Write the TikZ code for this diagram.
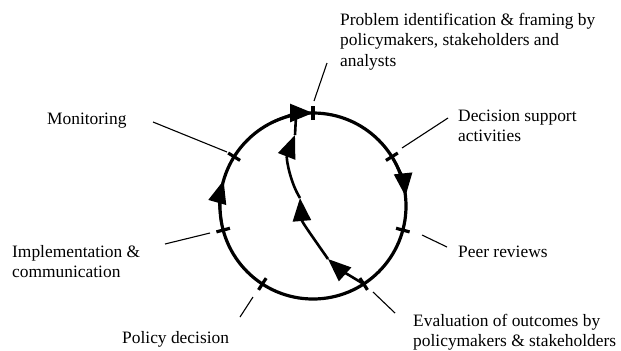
\documentclass[tikz,border=0pt]{standalone}
\usepackage{fontspec}
\setmainfont{Liberation Serif}
\usetikzlibrary{arrows.meta,calc}
\begin{document}
\begin{tikzpicture}[x=1bp,y=-1bp,
  ring/.style={line width=3.2bp},
  tickmark/.style={line width=3.2bp},
  leader/.style={line width=1.1bp},
  flowline/.style={line width=2.6bp},
  flow/.style={line width=2.6bp,-{Triangle[length=23bp,width=18bp]}},
  lbl/.style={anchor=north west,inner sep=0pt,align=left,font=\fontsize{17.4bp}{20.5bp}\selectfont}
]
\useasboundingbox (0,0) rectangle (621,350);
\coordinate (c) at (313,206);
\draw[ring] (c) circle[radius=93];
% ticks
\foreach \a in {-90,-32,15,57,123,165,212}
  \draw[tickmark] ($(c)+(\a:86)$) -- ($(c)+(\a:100)$);
% arrows on the circle (clockwise)
\draw[flow] ($(c)+(-116:93)$) arc[start angle=-116,end angle=-90,radius=93];
\draw[flow] ($(c)+(-32:93)$) arc[start angle=-32,end angle=-6,radius=93];
\draw[flow] ($(c)+(-190:93)$) arc[start angle=-190,end angle=-164,radius=93];
% inner path
\coordinate (p0) at ($(c)+(57:93)$);
\coordinate (p1) at (328,259);
\coordinate (p2) at (300,198);
\coordinate (p3) at (295,135);
\coordinate (p4) at (296,116);
\draw[flow] (p0) .. controls (352,277) and (338,268) .. (p1);
\draw[flow] (p1) .. controls (312,236) and (302,222) .. (p2);
\draw[flow] (p2) .. controls (290,182) and (286,158) .. (p3);
\draw[flowline] (p3) -- (p4);
% labels
\node[lbl] (t1) at (340,10.65) {\strut Problem identification \& framing by\\policymakers, stakeholders and\\analysts};
\node[lbl] (t2) at (458,106.65) {\strut Decision support\\activities};
\node[lbl] (t3) at (458,242.65) {\strut Peer reviews};
\node[lbl] (t4) at (413,311.65) {\strut Evaluation of outcomes by\\policymakers \& stakeholders};
\node[lbl] (t5) at (122,328.65) {\strut Policy decision};
\node[lbl] (t6) at (12,242.65) {\strut Implementation \&\\communication};
\node[lbl] (t7) at (47,109.65) {\strut Monitoring};
% leader lines
\coordinate (a1) at (314,101); \coordinate (b1) at (327,63);
\coordinate (a2) at (402,148); \coordinate (b2) at (448,118);
\coordinate (a3) at (422,235); \coordinate (b3) at (447,247);
\coordinate (a4) at (373,292); \coordinate (b4) at (395,313);
\coordinate (a5) at (253,297); \coordinate (b5) at (240,317);
\coordinate (a6) at (210,233); \coordinate (b6) at (165,244);
\coordinate (a7) at (227,152); \coordinate (b7) at (153,122);
\foreach \i in {1,...,7} \draw[leader] (a\i) -- (b\i);
\end{tikzpicture}
\end{document}
